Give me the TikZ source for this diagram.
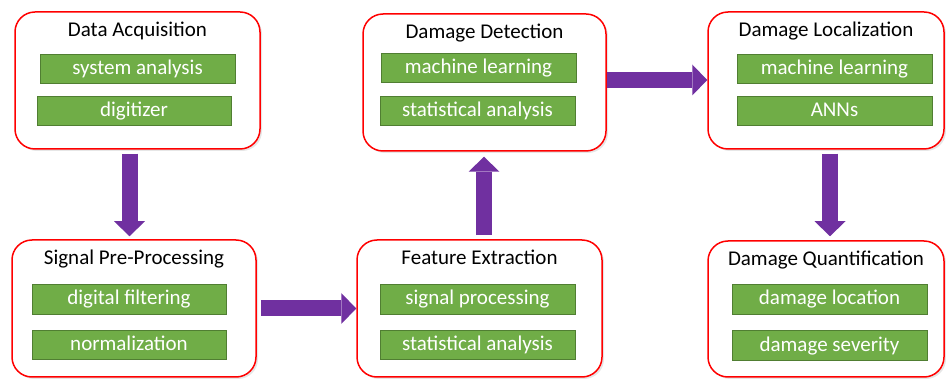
\documentclass[tikz,border=0pt]{standalone}
\usepackage{fontspec}
\setmainfont{Carlito}
\usetikzlibrary{arrows.meta,shadows}
\definecolor{boxred}{HTML}{FF0000}
\definecolor{itemgreen}{HTML}{70AD47}
\definecolor{itemedge}{HTML}{507E32}
\definecolor{flowpurple}{HTML}{7030A0}

\begin{document}
\begin{tikzpicture}[x=1pt, y=-1pt,
	stage/.style={draw=boxred, line width=1.5pt, fill=white, rounded corners=20pt, inner sep=0pt,
		drop shadow={opacity=0.2, shadow xshift=2pt, shadow yshift=-2pt}},
	title/.style={anchor=base, inner sep=0pt, font=\fontsize{21}{25}\selectfont},
	item/.style={draw=itemedge, line width=1pt, fill=itemgreen, minimum width=195pt, minimum height=29pt,
		inner sep=0pt, text height=15pt, text depth=4pt, text=white, font=\fontsize{21}{25}\selectfont},
	flow/.style={draw=flowpurple, line width=16pt, -{Triangle[width=31pt, length=15pt, line width=0pt]}}]

	\useasboundingbox (0,0) rectangle (946,379);

	\node[stage, minimum width=245pt, minimum height=137pt] (acq) at (137.5, 80.5) {};
	\node[title] (acqt) at ([yshift=-25pt]acq.north) {Data Acquisition};
	\node[item] (acq1) at (137.5, 69.5) {system analysis};
	\node[item, minimum width=194pt] (acq2) at (134, 111.5) {digitizer};

	\node[stage, minimum width=243pt, minimum height=137pt] (det) at (484.5, 82.5) {};
	\node[title] (dett) at ([yshift=-25pt]det.north) {Damage Detection};
	\node[item] (det1) at (478.5, 68) {machine learning};
	\node[item] (det2) at (477.5, 111.5) {statistical analysis};

	\node[stage, minimum width=236pt, minimum height=137pt] (loc) at (826, 80.5) {};
	\node[title] (loct) at ([yshift=-25pt]loc.north) {Damage Localization};
	\node[item] (loc1) at (834.5, 69.5) {machine learning};
	\node[item] (loc2) at (834.5, 111.5) {ANNs};

	\node[stage, minimum width=244pt, minimum height=137pt] (pre) at (134, 308.5) {};
	\node[title] (pret) at ([yshift=-25pt]pre.north) {Signal Pre-Processing};
	\node[item, minimum width=194pt, minimum height=30pt] (pre1) at (129, 299.5) {digital filtering};
	\node[item, minimum width=194pt] (pre2) at (129, 345.5) {normalization};

	\node[stage, minimum width=245pt, minimum height=137pt] (fex) at (479.5, 308.5) {};
	\node[title] (fext) at ([yshift=-25pt]fex.north) {Feature Extraction};
	\node[item, minimum height=30pt] (fex1) at (477.5, 299.5) {signal processing};
	\node[item] (fex2) at (477.5, 345.5) {statistical analysis};

	\node[stage, minimum width=236pt, minimum height=136pt] (qua) at (826, 309) {};
	\node[title] (quat) at ([yshift=-25pt]qua.north) {Damage Quantification};
	\node[item, minimum height=30pt] (qua1) at (829.5, 299.5) {damage location};
	\node[item, minimum height=30pt] (qua2) at (829.5, 346) {damage severity};

	\draw[flow] ([xshift=-8pt, yshift=-4pt]acq.south) -- ([xshift=-4.5pt, yshift=3pt]pre.north);
	\draw[flow] ([xshift=4pt]pre.east) -- (fex.west);
	\draw[flow] ([xshift=4.5pt, yshift=4pt]fex.north) -- ([xshift=-0.5pt, yshift=-5pt]det.south);
	\draw[flow] ([yshift=2.5pt]det.east) -- ([yshift=0.5pt]loc.west);
	\draw[flow] ([xshift=4pt, yshift=-4pt]loc.south) -- ([xshift=4pt, yshift=4pt]qua.north);
\end{tikzpicture}
\end{document}
